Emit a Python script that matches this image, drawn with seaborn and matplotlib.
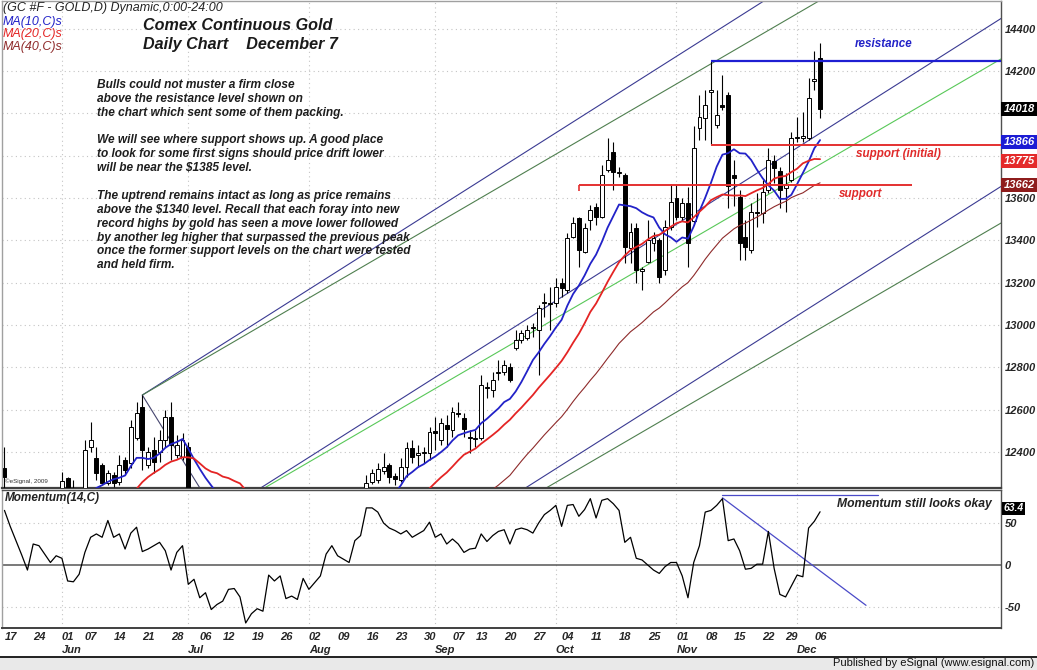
import numpy as np
import pandas as pd
import matplotlib
matplotlib.use("Agg")
import matplotlib.pyplot as plt
import matplotlib.transforms as mtrans
from matplotlib.patches import Rectangle
from matplotlib.lines import Line2D
import seaborn as sns

# ------------------------------------------------------------------ data
holidays = ["2010-05-31", "2010-07-05", "2010-09-06", "2010-11-25"]
trade_dates = pd.bdate_range("2010-05-17", "2010-12-07").drop(pd.to_datetime(holidays))

# Comex continuous gold (price x10, as printed on the chart axis)
opens = [12323, 12220, 12130, 11930, 11900, 11780, 11920, 11970, 12120, 12140,
         12140, 12275, 12210, 12080, 12190, 12425, 12370, 12338, 12252, 12291,
         12260, 12362, 12346, 12464, 12614, 12338, 12409, 12401, 12457, 12567,
         12386, 12378, 12425, 12070, 12080, 11950, 11980, 11990, 12110, 11980,
         12110, 12070, 12080, 11890, 11830, 11920, 11920, 11950, 11890, 11820,
         11580, 11620, 11700, 11820, 11820, 11860, 11950, 12020, 12060, 12030,
         11990, 11980, 12180, 12170, 12260, 12267, 12310, 12338, 12285, 12267,
         12330, 12417, 12385, 12395, 12393, 12500, 12456, 12527, 12504, 12585,
         12559, 12470, 12460, 12464, 12700, 12693, 12771, 12779, 12803, 12889,
         12929, 12937, 12985, 12976, 13105, 13100, 13102, 13196, 13165, 13417,
         13503, 13346, 13496, 13559, 13511, 13732, 13818, 13716, 13708, 13362,
         13456, 13255, 13299, 13385, 13401, 13259, 13464, 13598, 13511, 13574,
         13490, 13929, 13976, 14100, 13945, 14039, 14087, 13709, 13606, 13417,
         13354, 13535, 13527, 13638, 13772, 13725, 13646, 13685, 13882, 13882,
         13882, 14150, 14260]
highs = [12425, 12228, 12180, 11990, 11930, 11960, 12010, 12160, 12200, 12210,
         12307, 12283, 12268, 12210, 12457, 12543, 12425, 12350, 12315, 12305,
         12386, 12375, 12551, 12638, 12669, 12425, 12472, 12504, 12598, 12638,
         12480, 12488, 12449, 12150, 12150, 12020, 12050, 12140, 12140, 12160,
         12150, 12120, 12100, 11920, 11950, 11980, 11990, 11980, 11920, 11840,
         11680, 11720, 11840, 11880, 11920, 11980, 12060, 12110, 12090, 12070,
         12030, 12200, 12215, 12291, 12320, 12346, 12393, 12346, 12299, 12370,
         12448, 12456, 12433, 12425, 12519, 12567, 12559, 12574, 12614, 12637,
         12582, 12504, 12504, 12763, 12732, 12779, 12834, 12834, 12819, 12976,
         12976, 12999, 13007, 13094, 13149, 13181, 13220, 13220, 13433, 13511,
         13511, 13480, 13566, 13574, 13755, 13881, 13866, 13745, 13716, 13480,
         13480, 13275, 13496, 13440, 13409, 13496, 13661, 13661, 13598, 13653,
         13940, 14087, 14110, 14245, 14110, 14181, 14102, 13779, 13638, 13496,
         13575, 13622, 13685, 13835, 13803, 13748, 13717, 13913, 13984, 14008,
         14165, 14295, 14331]
lows = [12190, 12100, 11900, 11820, 11660, 11760, 11850, 11950, 12030, 12070,
        12120, 12150, 12040, 12020, 12170, 12401, 12268, 12244, 12244, 12236,
        12244, 12290, 12323, 12457, 12315, 12323, 12299, 12354, 12425, 12362,
        12370, 12362, 12040, 12010, 11880, 11900, 11930, 11970, 11940, 11960,
        12020, 12000, 11850, 11780, 11780, 11870, 11880, 11860, 11800, 11570,
        11550, 11560, 11660, 11780, 11800, 11850, 11920, 11960, 11990, 11940,
        11940, 11970, 12120, 12150, 12250, 12252, 12295, 12252, 12244, 12260,
        12283, 12346, 12330, 12346, 12362, 12409, 12433, 12425, 12472, 12567,
        12472, 12393, 12425, 12456, 12653, 12661, 12740, 12763, 12732, 12882,
        12913, 12929, 12945, 12763, 13039, 12976, 13086, 13130, 13149, 13409,
        13275, 13338, 13448, 13472, 13503, 13724, 13637, 13700, 13291, 13291,
        13196, 13165, 13291, 13350, 13196, 13236, 13448, 13496, 13496, 13275,
        13470, 13874, 13874, 13855, 13929, 14016, 13551, 13563, 13307, 13307,
        13340, 13465, 13480, 13622, 13669, 13551, 13535, 13677, 13866, 13866,
        13874, 14110, 13976]
closes = [12280, 12130, 11930, 11920, 11770, 11920, 11970, 12120, 12140, 12130,
          12265, 12210, 12080, 12190, 12409, 12457, 12299, 12252, 12299, 12252,
          12338, 12315, 12520, 12583, 12409, 12401, 12354, 12457, 12567, 12433,
          12433, 12457, 12070, 12080, 11950, 11980, 11990, 12110, 11980, 12110,
          12070, 12080, 11890, 11830, 11920, 11920, 11950, 11890, 11820, 11580,
          11620, 11700, 11820, 11820, 11860, 11950, 12020, 12060, 12030, 11990,
          11980, 12180, 12170, 12255, 12300, 12322, 12330, 12283, 12272, 12330,
          12417, 12378, 12395, 12400, 12496, 12490, 12535, 12511, 12590, 12580,
          12511, 12465, 12466, 12716, 12705, 12740, 12775, 12811, 12740, 12929,
          12960, 12976, 12990, 13078, 13110, 13106, 13181, 13173, 13409, 13480,
          13354, 13456, 13543, 13511, 13708, 13779, 13724, 13724, 13370, 13440,
          13259, 13262, 13401, 13410, 13228, 13464, 13582, 13511, 13574, 13385,
          13835, 13984, 14039, 14110, 13992, 14031, 13654, 13693, 13386, 13370,
          13535, 13527, 13630, 13779, 13740, 13638, 13660, 13882, 13890, 13893,
          14071, 14161, 14018]
# Momentum(14,C)
momentum = [65, 46, 29, 12, -6, 25, 23, 13, 3, 11,
            8, -19, -20, -11, 15, 33, 37, 33, 53, 33,
            37, 19, 38, 45, 16, 19, 23, 27, 17, -6,
            15, 23, -23, -17, -39, -33, -53, -47, -43, -29,
            -28, -38, -69, -58, -52, -55, -12, -19, -13, -40,
            -37, -41, -16, -29, -21, -13, 13, 23, 11, 7,
            3, 29, 35, 68, 68, 63, 50, 44, 41, 37,
            41, 33, 37, 41, 51, 33, 37, 25, 31, 25,
            15, 19, 20, 37, 28, 35, 40, 42, 25, 42,
            44, 42, 38, 50, 60, 65, 71, 46, 71, 72,
            58, 66, 79, 56, 77, 79, 73, 65, 27, 33,
            8, 6, 0, -6, -10, -2, 3, 3, -13, -39,
            3, 23, 63, 65, 71, 79, 29, 31, 17, -5,
            -4, 1, 1, 40, -4, -35, -38, -25, -12, -14,
            44, 52, 63.4]

ma_periods = [10, 20, 40]
ma_names = ["MA(10,C)s", "MA(20,C)s", "MA(40,C)s"]
ma_colors = ["#2222c8", "#e42424", "#8e2a2a"]

# 13800 and 14000 sit under the last-value boxes in the original
price_ticks = [12400, 12600, 12800, 13000, 13200, 13400, 13600, 14200, 14400]
momentum_ticks = [50, 0, -50]
momentum_tick_labels = ["50", "0", "-50"]

last_value_labels = ["14018", "13866", "13775", "13662"]
last_value_levels = [14018, 13866, 13775, 13662]
last_value_colors = ["#000000", "#1c1cd4", "#e42a2a", "#8e1c1c"]
momentum_last_label = "63.4"
momentum_last_level = 63.4

# analyst's drawn levels
resistance_level = 14245
support_initial_level = 13850
support_level = 13660
resistance_from = "2010-11-09"
support_from = "2010-10-07"
support_length_bars = 58

# channel (pitchfork-like) lines: anchors (date, price) and slopes per bar
pivot_high = ("2010-06-21", 12669)
pivot_low = ("2010-07-28", 11530)
slope_blue = 17.2
slope_green = 15.8

# momentum annotation lines (bar offset from Nov 11, value)
mom_anchor_date = "2010-11-11"
mom_trend_pts = [(0, 80), (25, -48)]
mom_top_pts = [(0, 83), (27, 83)]

notes = ["Bulls could not muster a firm close",
         "above the resistance level shown on",
         "the chart which sent some of them packing.",
         "",
         "We will see where support shows up. A good place",
         "to look for some first signs should price drift lower",
         "will be near the $1385 level.",
         "",
         "The uptrend remains intact as long as price remains",
         "above the $1340 level. Recall that each foray into new",
         "record highs by gold has seen a move lower followed",
         "by another leg higher that surpassed the previous peak",
         "once the former support levels on the chart were tested",
         "and held firm."]

# ------------------------------------------------------------------ style
sns.set_style("white")
plt.rcParams["font.family"] = ["Liberation Sans", "DejaVu Sans"]

W, H = 1037, 670
fig = plt.figure(figsize=(W / 100, H / 100), dpi=100)
fig.patch.set_facecolor("white")


def fx(px):
    return px / W


def fy(py):
    return 1 - py / H


ax = fig.add_axes([fx(2), fy(488), fx(1001) - fx(2), fy(1) - fy(488)])
axm = fig.add_axes([fx(2), fy(628), fx(1001) - fx(2), fy(490) - fy(628)], sharex=ax)

n = len(closes)
idx = np.arange(n)
o = np.array(opens, float)
h = np.array(highs, float)
l = np.array(lows, float)
c = np.array(closes, float)

pos = {d.strftime("%Y-%m-%d"): i for i, d in enumerate(trade_dates)}
xmin, xmax = -0.43, 173.5

grid_kw = dict(color="#c4c4c4", lw=0.8, ls=(0, (1, 3)), zorder=0)
month_starts = [i for i in range(1, n) if trade_dates[i].month != trade_dates[i - 1].month]
weeks = trade_dates.isocalendar().week.values
week_starts = [0] + [i for i in range(1, n) if weeks[i] != weeks[i - 1]]

# ------------------------------------------------------------------ price panel
for p in price_ticks + [13800, 14000]:
    ax.axhline(p, **grid_kw)
for i in month_starts:
    ax.axvline(i, **grid_kw)
    axm.axvline(i, **grid_kw)

# channel lines
hx, hp = pos[pivot_high[0]], pivot_high[1]
lx, lp = pos[pivot_low[0]], pivot_low[1]
mx, mp = (hx + lx) / 2, (hp + lp) / 2
x_end = xmax + 3
ax.plot([hx, lx], [hp, lp], color="#45456e", lw=0.8, zorder=2)
for (axx, app), gcol in [((hx, hp), "#4f7f4f"), ((mx, mp), "#58c858"), ((lx, lp), "#4f7f4f")]:
    ax.plot([axx, x_end], [app, app + slope_blue * (x_end - axx)], color="#3a3a92", lw=0.8, zorder=2)
    ax.plot([axx, x_end], [app, app + slope_green * (x_end - axx)], color=gcol, lw=0.8, zorder=2)

# candles
ax.vlines(idx, l, h, color="black", lw=0.8, zorder=3)
body_lo = np.minimum(o, c)
body_h = np.maximum(np.abs(c - o), 5)
up = c >= o
ax.bar(idx[up], body_h[up], bottom=body_lo[up], width=0.68, color="white",
       edgecolor="black", linewidth=0.7, zorder=4)
ax.bar(idx[~up], body_h[~up], bottom=body_lo[~up], width=0.68, color="black",
       edgecolor="black", linewidth=0.7, zorder=4)

# moving averages
df = pd.DataFrame({"bar": idx, "close": c})
for p, col, lw in zip(ma_periods, ma_colors, [1.3, 1.3, 0.8]):
    df[f"ma{p}"] = df["close"].rolling(p).mean()
    sns.lineplot(data=df, x="bar", y=f"ma{p}", color=col, lw=lw, ax=ax, zorder=5)

# analyst levels
r0 = pos[resistance_from]
s0 = pos[support_from]
ax.hlines(resistance_level, r0, x_end, color="#1e1ed2", lw=1.6, zorder=6)
ax.hlines(support_initial_level, r0, x_end, color="#e43030", lw=1.4, zorder=6)
ax.hlines(support_level, s0, s0 + support_length_bars, color="#e43030", lw=1.4, zorder=6)
ax.vlines(s0, support_level - 25, support_level, color="#e43030", lw=1.2, zorder=6)

lab_kw = dict(fontsize=8.4, fontweight="bold", fontstyle="italic", ha="center", va="center", zorder=7)
ax.text(r0 + 30, resistance_level + 82, "resistance", color="#2323c8", **lab_kw)
ax.text(r0 + 32.6, support_initial_level - 42, "support (initial)", color="#e02a2a", **lab_kw)
ax.text(r0 + 26, support_level - 41, "support", color="#e02a2a", **lab_kw)

ax.set_xlim(xmin, xmax)
ax.set_ylim(12230, 14530)
ax.set_xlabel("")
ax.set_ylabel("")
ax.yaxis.tick_right()
ax.set_yticks(price_ticks)
ax.set_yticklabels([str(p) for p in price_ticks])
ax.tick_params(axis="y", length=0, pad=2.5, labelsize=8)
ax.tick_params(axis="x", length=0, labelbottom=False)
for t in ax.get_yticklabels():
    t.set_fontweight("bold")
    t.set_fontstyle("italic")

btrans = mtrans.blended_transform_factory(ax.transAxes, ax.transData)
for lab, lev, col in zip(last_value_labels, last_value_levels, last_value_colors):
    ax.text(1.0025, lev, lab, transform=btrans, ha="left", va="center", color="white",
            fontsize=8, fontweight="bold", fontstyle="italic", clip_on=False, zorder=10,
            bbox=dict(boxstyle="square,pad=0.18", fc=col, ec="none"))

for side, col, lw in [("left", "#a0a0a0", 1.0), ("top", "#a0a0a0", 1.0),
                      ("right", "#505050", 1.0), ("bottom", "#404040", 1.6)]:
    ax.spines[side].set_color(col)
    ax.spines[side].set_linewidth(lw)
    ax.spines[side].set_visible(True)

# ------------------------------------------------------------------ momentum panel
for m in [50, -50]:
    axm.axhline(m, **grid_kw)
axm.axhline(0, color="#555555", lw=1.1, zorder=1)
dm = pd.DataFrame({"bar": idx, "mom": momentum})
sns.lineplot(data=dm, x="bar", y="mom", color="black", lw=0.9, ax=axm, zorder=4)
ma0 = pos[mom_anchor_date]
axm.plot([ma0 + p[0] for p in mom_trend_pts], [p[1] for p in mom_trend_pts],
         color="#4a4ac8", lw=0.9, zorder=3)
axm.plot([ma0 + p[0] for p in mom_top_pts], [p[1] for p in mom_top_pts],
         color="#4a4ac8", lw=0.9, zorder=3)
axm.set_ylim(-75, 89.3)
axm.set_xlim(xmin, xmax)
axm.set_xlabel("")
axm.set_ylabel("")
axm.yaxis.tick_right()
axm.set_yticks(momentum_ticks)
axm.set_yticklabels(momentum_tick_labels)
axm.tick_params(axis="y", length=0, pad=2.5, labelsize=8)
for t in axm.get_yticklabels():
    t.set_fontweight("bold")
    t.set_fontstyle("italic")
btm = mtrans.blended_transform_factory(axm.transAxes, axm.transData)
axm.text(1.0025, momentum_last_level + 4, momentum_last_label, transform=btm, ha="left", va="center",
         color="white", fontsize=7.5, fontweight="bold", fontstyle="italic", clip_on=False, zorder=10,
         bbox=dict(boxstyle="square,pad=0.12", fc="black", ec="none"))

axm.set_xticks(week_starts)
axm.set_xticklabels([trade_dates[i].strftime("%d") for i in week_starts],
                    fontsize=8, fontweight="bold", fontstyle="italic", ha="left")
axm.tick_params(axis="x", length=0, pad=3)
mtr = mtrans.blended_transform_factory(axm.transData, axm.transAxes)
for i in month_starts:
    axm.text(i, -0.16, trade_dates[i].strftime("%b"), transform=mtr, ha="left", va="center",
             fontsize=8, fontweight="bold", fontstyle="italic")

for side, col, lw in [("left", "#a0a0a0", 1.0), ("top", "#505050", 1.0),
                      ("right", "#505050", 1.0), ("bottom", "#404040", 1.4)]:
    axm.spines[side].set_color(col)
    axm.spines[side].set_linewidth(lw)
    axm.spines[side].set_visible(True)

axm.text(0.003, 0.94, "Momentum(14,C)", transform=axm.transAxes, ha="left", va="center",
         fontsize=8.5, fontweight="semibold", fontstyle="italic", color="#222222")
axm.text(0.991, 0.895, "Momentum still looks okay", transform=axm.transAxes, ha="right",
         va="center", fontsize=8.7, fontweight="bold", fontstyle="italic", color="#222222")

# ------------------------------------------------------------------ texts / frame
fig.text(fx(3), fy(8), "(GC #F - GOLD,D) Dynamic,0:00-24:00", ha="left", va="center",
         fontsize=9, fontstyle="italic", color="#222222")
for k, (name, col) in enumerate(zip(ma_names, ma_colors)):
    fig.text(fx(3), fy(22 + 12.5 * k), name, ha="left", va="center", fontsize=9,
             fontstyle="italic", color=col)
fig.text(fx(143), fy(26), "Comex Continuous Gold", ha="left", va="center",
         fontsize=11.6, fontweight="bold", fontstyle="italic", color="#1a1a1a")
fig.text(fx(143), fy(45), "Daily Chart    December 7", ha="left", va="center",
         fontsize=11.6, fontweight="bold", fontstyle="italic", color="#1a1a1a")
for k, line in enumerate(notes):
    if line:
        fig.text(fx(97), fy(85 + 13.87 * k), line, ha="left", va="center",
                 fontsize=8.6, fontweight="bold", fontstyle="italic", color="#1e1e1e")
fig.text(fx(5), fy(481), "\u00a9eSignal, 2009", ha="left", va="center", fontsize=4.5, color="#333333")

fig.add_artist(Rectangle((0, 0), 1, fy(657), transform=fig.transFigure, fc="#e9e9e9", ec="none", zorder=0))
fig.add_artist(Line2D([0, 1], [fy(656.5), fy(656.5)], transform=fig.transFigure, color="#202020", lw=1.4))
fig.text(fx(1034), fy(663.5), "Published by eSignal (www.esignal.com)", ha="right", va="center",
         fontsize=8, color="#111111")

fig.savefig("out.png", dpi=100)
